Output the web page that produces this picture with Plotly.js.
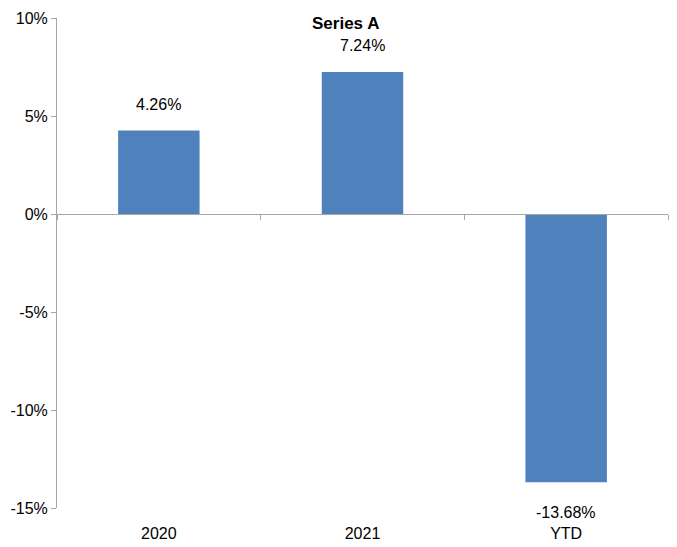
<!DOCTYPE html>
<html>
<head>
<meta charset="utf-8">
<script src="https://cdn.plot.ly/plotly-3.0.1.min.js"></script>
<style>html,body{margin:0;padding:0;background:#fff;}#chart{width:677px;height:547px;}</style>
</head>
<body>
<div id="chart"></div>
<script>
const categories = ["2020", "2021", "YTD"];
const values = [4.26, 7.24, -13.68];
const valueLabels = ["4.26%", "7.24%", "-13.68%"];
const yTickVals = [-15, -10, -5, 0, 5, 10];
const yTickText = ["-15%", "-10%", "-5%", "0%", "5%", "10%"];
const seriesName = "Series A";

const FONT = "'Liberation Sans Narrow', 'Arial Narrow', 'Liberation Sans', Arial, sans-serif";
const AXIS_COLOR = "#A6A6A6";

const trace = {
  type: "bar",
  x: categories,
  y: values,
  marker: {color: "#4F81BD"},
  hoverinfo: "skip",
  showlegend: false
};

// invisible trace on overlay axis (drawn at y = 0 with boundary ticks)
const axisTrace = {
  type: "scatter",
  mode: "none",
  x: categories,
  y: values,
  xaxis: "x2",
  yaxis: "y",
  hoverinfo: "skip",
  showlegend: false
};

const annotations = categories.map((c, i) => ({
  x: i,
  y: values[i],
  xref: "x",
  yref: "y",
  text: valueLabels[i],
  showarrow: false,
  xanchor: "center",
  yanchor: values[i] >= 0 ? "bottom" : "top",
  yshift: values[i] >= 0 ? 16 : -20,
  font: {family: FONT, size: 16, color: "#000"}
}));

annotations.push({
  text: "<b>" + seriesName + "</b>",
  xref: "paper", yref: "paper",
  x: 0.472, y: 1.0,
  xanchor: "center", yanchor: "top",
  yshift: 6,
  showarrow: false,
  font: {family: FONT, size: 17, color: "#000"}
});

const catRange = [-0.5, categories.length - 0.5];

const layout = {
  width: 677,
  height: 547,
  margin: {l: 57, r: 9, t: 18, b: 39},
  paper_bgcolor: "#fff",
  plot_bgcolor: "#fff",
  bargap: 0.6,
  font: {family: FONT, size: 16, color: "#000"},
  xaxis: {
    type: "category",
    categoryorder: "array",
    categoryarray: categories,
    range: catRange,
    showline: false,
    ticks: "",
    ticklabelstandoff: 14,
    showgrid: false,
    zeroline: false,
    tickfont: {family: FONT, size: 16, color: "#000"},
    fixedrange: true
  },
  xaxis2: {
    type: "category",
    categoryorder: "array",
    categoryarray: categories,
    range: catRange,
    overlaying: "x",
    anchor: "free",
    position: 0.6,
    side: "bottom",
    showline: true,
    linecolor: AXIS_COLOR,
    linewidth: 1,
    ticks: "outside",
    tickson: "boundaries",
    ticklen: 5,
    tickcolor: AXIS_COLOR,
    showticklabels: false,
    showgrid: false,
    zeroline: false,
    fixedrange: true
  },
  yaxis: {
    range: [-15, 10],
    tickvals: yTickVals,
    ticktext: yTickText,
    showline: true,
    linecolor: AXIS_COLOR,
    linewidth: 1,
    ticks: "outside",
    ticklen: 5,
    tickcolor: AXIS_COLOR,
    showgrid: false,
    zeroline: false,
    tickfont: {family: FONT, size: 16, color: "#000"},
    fixedrange: true
  },
  annotations: annotations
};

Plotly.newPlot("chart", [trace, axisTrace], layout, {displayModeBar: false, staticPlot: true});
</script>
</body>
</html>
